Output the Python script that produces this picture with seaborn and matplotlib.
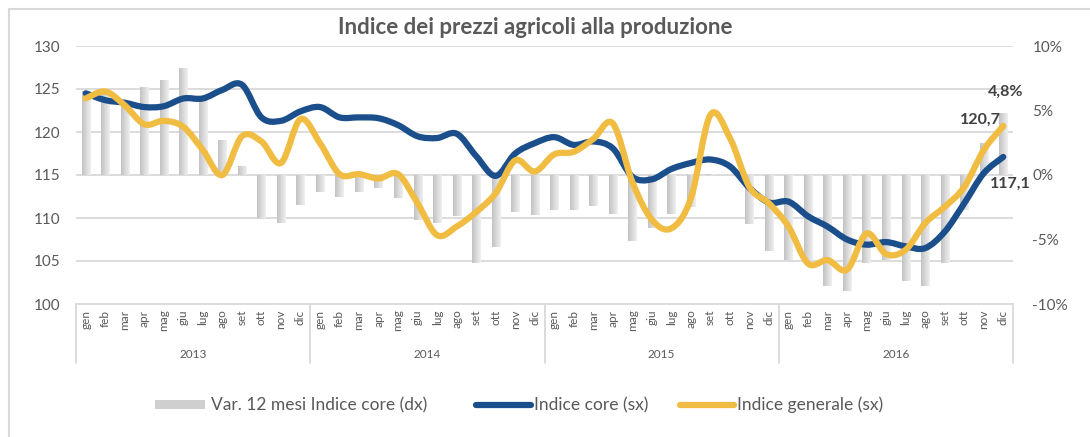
import numpy as np
import pandas as pd
import seaborn as sns
import matplotlib.pyplot as plt
from matplotlib.path import Path
from matplotlib.patches import PathPatch, Rectangle
from matplotlib.lines import Line2D

# data
months = ['gen', 'feb', 'mar', 'apr', 'mag', 'giu', 'lug', 'ago', 'set', 'ott', 'nov', 'dic']
years = ['2013', '2014', '2015', '2016']

var_core = [6.5, 6.4, 5.7, 6.8, 7.4, 8.3, 5.8, 2.7, 0.7, -3.3, -3.7, -2.3,
            -1.3, -1.7, -1.3, -1.0, -1.8, -3.5, -3.7, -3.2, -6.8, -5.6, -2.9, -3.1,
            -2.7, -2.7, -2.4, -3.0, -5.1, -4.1, -3.0, -2.5, 0.1, 0.0, -3.8, -5.9,
            -6.6, -6.6, -8.6, -9.0, -6.8, -6.6, -8.2, -8.6, -6.8, -2.7, 2.5, 4.8]

indice_core = [124.5, 123.7, 123.4, 122.9, 123.0, 123.9, 123.9, 124.9, 125.5, 121.7, 121.3, 122.4,
               122.9, 121.7, 121.7, 121.6, 120.8, 119.5, 119.3, 119.8, 117.2, 114.9, 117.5, 118.7,
               119.4, 118.5, 118.9, 118.1, 114.8, 114.5, 115.7, 116.4, 116.8, 116.0, 113.5, 111.8,
               111.9, 110.2, 109.0, 107.5, 106.9, 107.2, 106.7, 106.5, 108.4, 111.7, 115.2, 117.1]

indice_generale = [123.9, 124.7, 123.1, 120.9, 121.3, 120.6, 117.9, 115.0, 119.5, 118.9, 116.4, 121.5,
                   118.7, 115.1, 115.1, 114.6, 115.1, 111.7, 108.0, 109.0, 110.7, 112.9, 116.7, 115.4,
                   117.4, 117.7, 119.2, 121.0, 114.2, 109.8, 108.8, 112.3, 122.0, 119.3, 113.6, 111.7,
                   109.0, 104.7, 105.1, 104.0, 108.2, 105.8, 106.3, 109.4, 111.3, 113.6, 117.9, 120.7]

BLUE = '#1b4f8c'
YELLOW = '#f0bc42'
GRID = '#d9d9d9'
TXT = '#595959'

sns.set_theme(style='white')
plt.rcParams['font.family'] = ['Lato', 'DejaVu Sans']

keys = [f'{m} {y}' for y in years for m in months]
df = pd.DataFrame({'periodo': keys, 'var': var_core})

fig = plt.figure(figsize=(10.9, 4.37), dpi=100)
ax1 = fig.add_axes([76 / 1090, 1 - 304 / 437, 937 / 1090, 258 / 437])
ax2 = ax1.twinx()
ax3 = ax1.twinx()


def smooth_path(xs, ys):
    # Excel-like smoothed line: cubic bezier through every point
    pts = np.column_stack([xs, ys]).astype(float)
    ext = np.vstack([pts[0], pts, pts[-1]])
    verts = [pts[0]]
    codes = [Path.MOVETO]
    for i in range(len(pts) - 1):
        p0, p1, p2, p3 = ext[i], ext[i + 1], ext[i + 2], ext[i + 3]
        verts += [p1 + (p2 - p0) / 6, p2 - (p3 - p1) / 6, p2]
        codes += [Path.CURVE4] * 3
    return Path(verts, codes)


# bars (right axis) with grey gradient
sns.barplot(data=df, x='periodo', y='var', order=keys, ax=ax2, color='#d0d0d0', width=0.42,
            saturation=1)
grad = np.linspace(0, 1, 64).reshape(1, -1)
cmap = sns.blend_palette(['#c2c2c2', '#f0f0f0'], as_cmap=True)
for p in list(ax2.patches):
    x0, y0 = p.get_x(), p.get_y()
    w, h = p.get_width(), p.get_height()
    im = ax2.imshow(grad, extent=[x0, x0 + w, min(y0, y0 + h), max(y0, y0 + h)], aspect='auto',
                    cmap=cmap, zorder=2, interpolation='bilinear')
    im.set_clip_path(p)
    p.set_facecolor('none')
    p.set_edgecolor('none')

# lines (left scale)
xs = np.arange(len(keys))
ax3.add_patch(PathPatch(smooth_path(xs, indice_core), fill=False, edgecolor=BLUE, lw=4.5,
                        capstyle='round', joinstyle='round', zorder=3))
ax3.add_patch(PathPatch(smooth_path(xs, indice_generale), fill=False, edgecolor=YELLOW, lw=4.5,
                        capstyle='round', joinstyle='round', zorder=4))

for ax in (ax1, ax3):
    ax.set_ylim(100, 130)
ax2.set_ylim(-10, 10)
ax1.set_xlim(-0.5, len(keys) - 0.5)

# grid on bottom axis
ax1.set_yticks(range(100, 131, 5))
for v in range(105, 131, 5):
    ax1.axhline(v, color=GRID, lw=1.3, zorder=0)
ax1.tick_params(axis='y', length=0, pad=11, labelsize=11, labelcolor=TXT)

ax2.set_yticks([-10, -5, 0, 5, 10])
ax2.set_yticklabels(['-10%', '-5%', '0%', '5%', '10%'])
ax2.tick_params(axis='y', length=0, pad=14, labelsize=11, labelcolor=TXT)
ax2.set_ylabel('')
ax2.set_xlabel('')

ax3.set_yticks([])
ax3.tick_params(axis='y', length=0, labelright=False)

for ax in (ax1, ax2, ax3):
    for s in ax.spines.values():
        s.set_visible(False)
ax1.spines['bottom'].set_visible(True)
ax1.spines['bottom'].set_color(GRID)
ax1.spines['bottom'].set_linewidth(1.3)

ax1.set_xticks(xs)
ax1.set_xticklabels(months * len(years), rotation=90, fontsize=8.5, color=TXT)
ax1.tick_params(axis='x', length=0, pad=4)
ax1.set_xlabel('')

trans = ax1.get_xaxis_transform()
for k in range(len(years) + 1):
    ax1.add_line(Line2D([12 * k - 0.5] * 2, [0, -59 / 258], transform=trans, color=GRID, lw=1.3,
                        clip_on=False))
for k, y in enumerate(years):
    ax1.text(12 * k + 5.5, -51 / 258, y, transform=trans, ha='center', va='center', fontsize=8.5,
             color=TXT)

# value labels
lab = dict(fontsize=11.5, fontweight='bold', color='#404040', textcoords='offset points')
ax3.annotate('120,7', xy=(47, indice_generale[-1]), xytext=(-2, 4.5), ha='right', va='center', **lab)
ax3.annotate('117,1', xy=(47, indice_core[-1]), xytext=(5, -19.5), ha='center', va='center', **lab)
ax2.annotate('4,8%', xy=(47, var_core[-1]), xytext=(1.5, 15.5), ha='center', va='center', **lab)

fig.text(535 / 1090, 1 - 28 / 437, 'Indice dei prezzi agricoli alla produzione', ha='center',
         va='center', fontsize=16, fontweight='bold', color=TXT)

# outer chart frame
fig.add_artist(Line2D([9 / 1090, 9 / 1090], [0, 1 - 9 / 437], transform=fig.transFigure, color=GRID, lw=1.5))
fig.add_artist(Line2D([9 / 1090, 1], [1 - 9 / 437] * 2, transform=fig.transFigure, color=GRID, lw=1.5))

# legend
ly = 1 - 405 / 437
fig.add_artist(Rectangle((155 / 1090, ly - 4 / 437), 50 / 1090, 9 / 437, transform=fig.transFigure,
                         facecolor='#cfcfcf', edgecolor='none'))
fig.text(211 / 1090, ly, 'Var. 12 mesi Indice core (dx)', ha='left', va='center', fontsize=12.5, color=TXT)
fig.add_artist(Line2D([476 / 1090, 531 / 1090], [ly, ly], transform=fig.transFigure, color=BLUE, lw=4.5,
                      solid_capstyle='round'))
fig.text(534 / 1090, ly, 'Indice core (sx)', ha='left', va='center', fontsize=12.5, color=TXT)
fig.add_artist(Line2D([680 / 1090, 734 / 1090], [ly, ly], transform=fig.transFigure, color=YELLOW, lw=4.5,
                      solid_capstyle='round'))
fig.text(737 / 1090, ly, 'Indice generale (sx)', ha='left', va='center', fontsize=12.5, color=TXT)

fig.savefig('out.png', dpi=100)
